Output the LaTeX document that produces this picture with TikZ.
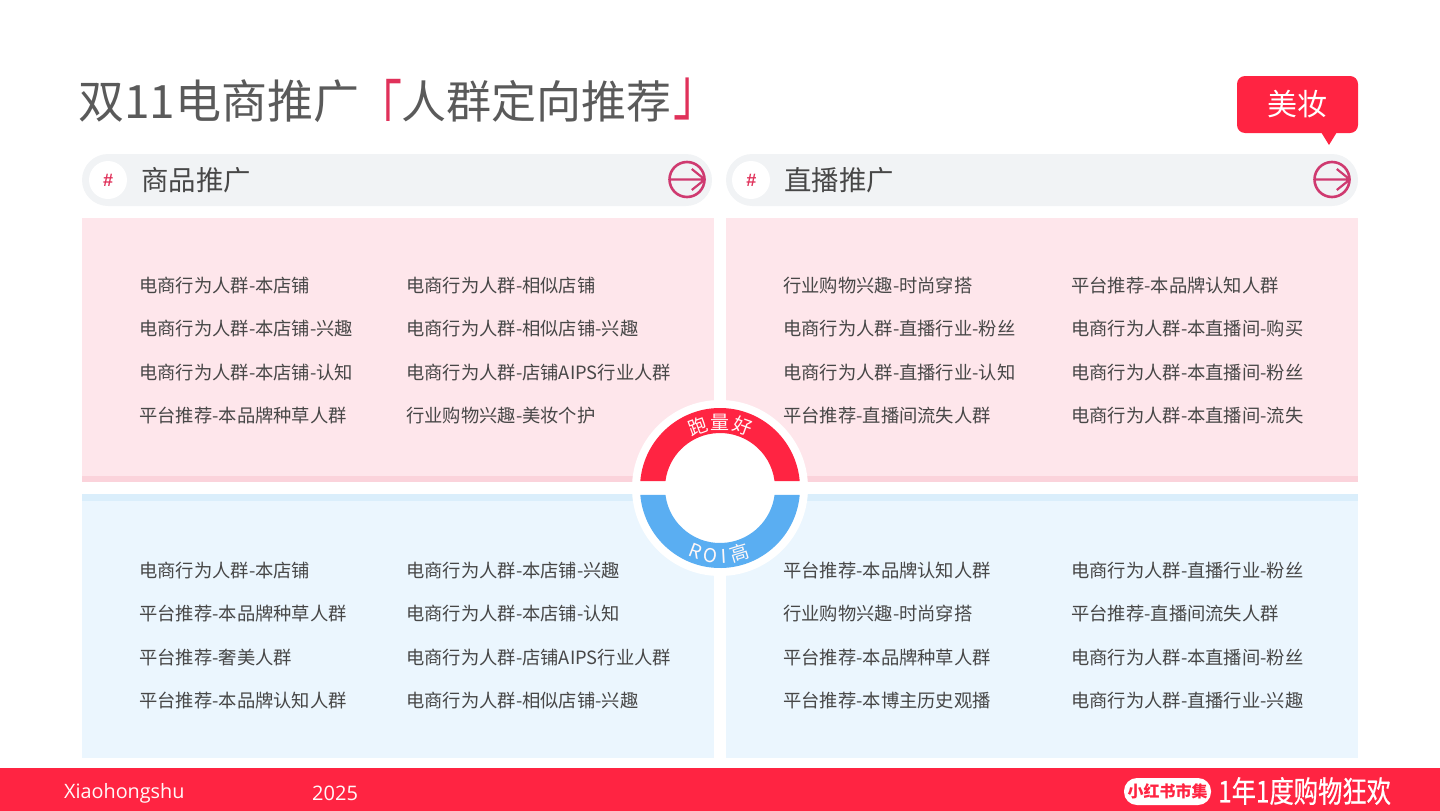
\documentclass[tikz,border=0pt]{standalone}
\usepackage{fontspec}
\usepackage{graphicx}
\setmainfont{Noto Sans CJK SC}
\newfontfamily\latinfont{Open Sans}
\newfontfamily\hashfont{Liberation Sans}
\newfontfamily\sloganfont[FakeBold=0.6]{Noto Sans CJK SC}
\usetikzlibrary{arrows.meta,positioning,calc}
\definecolor{redmain}{HTML}{FF2442}
\definecolor{bracketred}{HTML}{E0315A}
\definecolor{bluering}{HTML}{5AAEF2}
\definecolor{pinkpanel}{HTML}{FEE6EB}
\definecolor{pinkstrip}{HTML}{FBD3DB}
\definecolor{bluepanel}{HTML}{EBF6FE}
\definecolor{bluestrip}{HTML}{DAEEFB}
\definecolor{pillgray}{HTML}{F1F3F5}
\definecolor{iconpink}{HTML}{CF3A70}
\definecolor{inktext}{HTML}{474747}
\definecolor{titletext}{HTML}{5A5A5A}
\tikzset{
    panelbox/.style={draw=none, minimum width=632pt, minimum height=264pt, inner sep=0pt},
    pillbox/.style={fill=pillgray, rounded corners=26pt, minimum height=52pt, inner sep=0pt},
    hashdot/.style={circle, fill=white, minimum size=38pt, inner sep=0pt, text=bracketred, font=\hashfont\fontsize{18}{18}\selectfont\bfseries\itshape},
    headtext/.style={anchor=west, inner sep=0pt, text=inktext, font=\fontsize{27.4}{27.4}\selectfont},
    titlepart/.style={anchor=base west, inner sep=0pt, text=titletext, font=\fontsize{45}{45}\selectfont},
    itemtext/.style={anchor=base west, inner sep=0pt, text=inktext, font=\fontsize{18.3}{18.3}\selectfont},
    goring/.style={circle, draw=iconpink, line width=2.6pt, minimum size=35pt, inner sep=0pt},
    goarrow/.style={draw=iconpink, line width=2.2pt, line join=round},
    arctext/.style={inner sep=0pt, text=white!88!pink, font=\fontsize{19}{19}\selectfont}
}

\begin{document}
\begin{tikzpicture}[x=1pt, y=-1pt]
\useasboundingbox (0,0) rectangle (1440,811);

% title
\node[titlepart, font=\fontsize{46}{46}\selectfont] (title) at (78,118) {双11电商推广};
\node[titlepart, text=bracketred] (openmark) at (357,118) {\raisebox{-16pt}{\scalebox{1}[1.45]{「}}};
\node[titlepart] (titlered) at (401,118) {人群定向推荐};
\node[titlepart, text=bracketred] (closemark) at (673,118) {\raisebox{4pt}{\scalebox{1}[1.45]{」}}};

% tag
\node[fill=redmain, rounded corners=8pt, minimum width=121pt, minimum height=57pt, inner sep=0pt, text=white, font=\fontsize{30}{30}\selectfont] (tag) at (1297.5,104.5) {美妆};
\fill[redmain] (1321,132) -- (1337,132) -- (1329,145) -- cycle;

% header bars
\node[pillbox, minimum width=630pt] (pillL) at (397,180) {};
\node[pillbox, minimum width=632pt] (pillR) at (1042,180) {};
\node[hashdot] (hashL) at (108,180) {\#};
\node[hashdot] (hashR) at (751,180) {\#};
\node[headtext] (headL) at (141,180) {商品推广};
\node[headtext] (headR) at (784,180) {直播推广};
\node[goring] (goL) at (687,179.5) {};
\node[goring] (goR) at (1332,179.5) {};
\draw[goarrow] ($(goL.west)+(2,0)$) -- ($(goL.east)+(-1,0)$) ($(goL.east)+(-14,-10.5)$) -- ($(goL.east)+(-1,0)$) -- ($(goL.east)+(-14,10.5)$);
\draw[goarrow] ($(goR.west)+(2,0)$) -- ($(goR.east)+(-1,0)$) ($(goR.east)+(-14,-10.5)$) -- ($(goR.east)+(-1,0)$) -- ($(goR.east)+(-14,10.5)$);

% panels
\node[panelbox, fill=pinkpanel] (pa) at (398,350) {};
\node[panelbox, fill=pinkpanel] (pb) at (1042,350) {};
\node[panelbox, fill=bluepanel] (pc) at (398,626) {};
\node[panelbox, fill=bluepanel] (pd) at (1042,626) {};
\fill[pinkstrip] (pa.south west) rectangle ($(pa.south east)+(0,-6)$);
\fill[pinkstrip] (pb.south west) rectangle ($(pb.south east)+(0,-6)$);
\fill[bluestrip] (pc.north west) rectangle ($(pc.north east)+(0,7)$);
\fill[bluestrip] (pd.north west) rectangle ($(pd.north east)+(0,7)$);

% lists
\foreach \txt [count=\i] in {电商行为人群-本店铺,电商行为人群-本店铺-兴趣,电商行为人群-本店铺-认知,平台推荐-本品牌种草人群}
  \node[itemtext] (aa\i) at (139,{292.3+43.4*(\i-1)}) {\txt};
\foreach \txt [count=\i] in {电商行为人群-相似店铺,电商行为人群-相似店铺-兴趣,电商行为人群-店铺AIPS行业人群,行业购物兴趣-美妆个护}
  \node[itemtext] (ab\i) at (406,{292.3+43.4*(\i-1)}) {\txt};
\foreach \txt [count=\i] in {行业购物兴趣-时尚穿搭,电商行为人群-直播行业-粉丝,电商行为人群-直播行业-认知,平台推荐-直播间流失人群}
  \node[itemtext] (ba\i) at (783,{292.3+43.4*(\i-1)}) {\txt};
\foreach \txt [count=\i] in {平台推荐-本品牌认知人群,电商行为人群-本直播间-购买,电商行为人群-本直播间-粉丝,电商行为人群-本直播间-流失}
  \node[itemtext] (bb\i) at (1071,{292.3+43.4*(\i-1)}) {\txt};
\foreach \txt [count=\i] in {电商行为人群-本店铺,平台推荐-本品牌种草人群,平台推荐-奢美人群,平台推荐-本品牌认知人群}
  \node[itemtext] (ca\i) at (139,{577.3+43.4*(\i-1)}) {\txt};
\foreach \txt [count=\i] in {电商行为人群-本店铺-兴趣,电商行为人群-本店铺-认知,电商行为人群-店铺AIPS行业人群,电商行为人群-相似店铺-兴趣}
  \node[itemtext] (cb\i) at (406,{577.3+43.4*(\i-1)}) {\txt};
\foreach \txt [count=\i] in {平台推荐-本品牌认知人群,行业购物兴趣-时尚穿搭,平台推荐-本品牌种草人群,平台推荐-本博主历史观播}
  \node[itemtext] (da\i) at (783,{577.3+43.4*(\i-1)}) {\txt};
\foreach \txt [count=\i] in {电商行为人群-直播行业-粉丝,平台推荐-直播间流失人群,电商行为人群-本直播间-粉丝,电商行为人群-直播行业-兴趣}
  \node[itemtext] (db\i) at (1071,{577.3+43.4*(\i-1)}) {\txt};

% ring
\coordinate (ring) at (720,488);
\fill[white] (ring) circle (88);
\fill[redmain] ($(ring)+(185:80)$) arc[start angle=185, end angle=355, radius=80]
  -- ($(ring)+(352.7:55)$) arc[start angle=352.7, end angle=187.3, radius=55] -- cycle;
\fill[bluering] ($(ring)+(5:80)$) arc[start angle=5, end angle=175, radius=80]
  -- ($(ring)+(172.7:55)$) arc[start angle=172.7, end angle=7.3, radius=55] -- cycle;
\foreach \ch/\ang in {跑/250,量/270,好/290}
  \node[arctext, rotate={270-\ang}] at ($(ring)+(\ang:66)$) {\ch};
\foreach \ch/\ang in {R/111,O/98,I/87,高/73}
  \node[arctext, rotate={90-\ang}] at ($(ring)+(\ang:68)$) {\ch};

% footer
\fill[redmain] (0,768) rectangle (1440,811);
\node[anchor=base west, inner sep=0pt, text=white!90!pink, font=\latinfont\fontsize{19.8}{20}\selectfont] (brand) at (64,798) {Xiaohongshu};
\node[anchor=base west, inner sep=0pt, text=white!90!pink, font=\latinfont\fontsize{20}{20}\selectfont] (year) at (312,800) {2025};
\node[fill=white, rounded corners=13pt, minimum width=87pt, minimum height=27pt, inner sep=0pt, text=redmain, font=\fontsize{16}{16}\selectfont\bfseries] (market) at (1167.5,791.5) {小红书市集};
\node[anchor=west, inner sep=0pt, text=white, font=\sloganfont\fontsize{30}{30}\selectfont] (slogan) at (1218,791) {\scalebox{0.81}[1]{1年1度购物狂欢}};
\end{tikzpicture}
\end{document}
